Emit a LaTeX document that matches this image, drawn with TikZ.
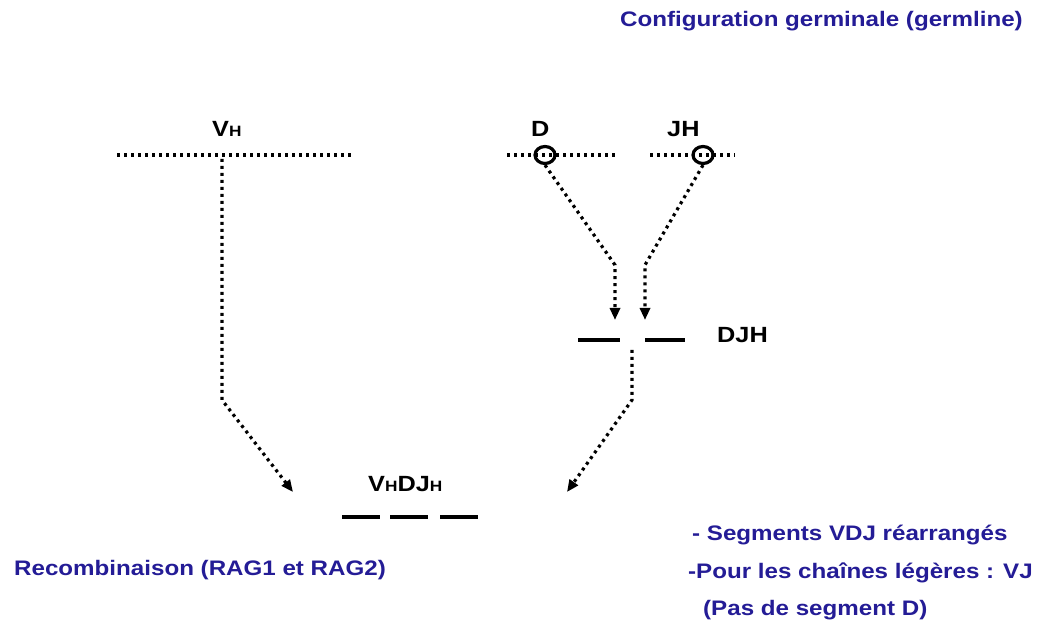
\documentclass[tikz,border=0pt]{standalone}
\usepackage{fontspec}
\usepackage{graphicx}
\setmainfont{Liberation Sans}
\usetikzlibrary{arrows.meta,shapes.geometric}
\definecolor{tblue}{RGB}{36,28,150}
\newcommand\hx[1]{\scalebox{1.15}[1]{#1}}
\newcommand\smH{{\fontsize{15}{16}\selectfont H}}
\begin{document}
\begin{tikzpicture}[x=1pt,y=-1pt,
  lab/.style={inner sep=0pt, anchor=base west, font=\fontsize{22}{24}\selectfont\bfseries},
  blab/.style={inner sep=0pt, anchor=base west, text=tblue, font=\fontsize{21}{24}\selectfont\bfseries},
  dots/.style={line width=3.2pt, dash pattern=on 3pt off 4pt},
  arr/.style={dots, -{Triangle[length=12pt,width=10pt]}},
  seg/.style={line width=3.6pt},
  ring/.style={draw, ellipse, line width=3.2pt, minimum width=20pt, minimum height=17pt, inner sep=0pt}]
\path[use as bounding box, fill=white] (0,0) rectangle (1037,628);

% texts
\node[blab] (title) at (620,27) {\hx{Configuration germinale (germline)}};
\node[blab] (recomb) at (14,575) {\hx{Recombinaison (RAG1 et RAG2)}};
\node[blab] (seg1) at (692,540) {\hx{-~Segments VDJ réarrangés}};
\node[blab] (seg2) at (688,578) {\hx{-Pour les chaînes légères : VJ}};
\node[blab] (seg3) at (703,615) {\hx{(Pas de segment D)}};

\node[lab] (VH) at (212,137) {\hx{V\smH}};
\node[lab] (D) at (531,137) {\hx{D}};
\node[lab] (JH) at (667,137) {\hx{JH}};
\node[lab] (DJH) at (717,343) {\hx{DJH}};
\node[lab] (VDJ) at (368,491) {\hx{V\smH DJ\smH}};

% germline dotted lines
\coordinate (vl) at (117,155); \coordinate (vr) at (352,155);
\coordinate (dl) at (507,155); \coordinate (dr) at (615,155);
\coordinate (jl) at (650,155); \coordinate (jr) at (735,155);
\draw[dots] (vl) -- (vr);
\draw[dots] (dl) -- (dr);
\draw[dots] (jl) -- (jr);
\node[ring] (dc) at (545,155) {};
\node[ring] (jc) at (703,155) {};

% DJ segments
\coordinate (a1) at (578,340); \coordinate (a2) at (620,340);
\coordinate (b1) at (645,340); \coordinate (b2) at (685,340);
\draw[seg] (a1) -- (a2);
\draw[seg] (b1) -- (b2);

% VDJ segments
\coordinate (c1) at (342,517); \coordinate (c2) at (380,517);
\coordinate (c3) at (390,517); \coordinate (c4) at (428,517);
\coordinate (c5) at (440,517); \coordinate (c6) at (478,517);
\draw[seg] (c1) -- (c2);
\draw[seg] (c3) -- (c4);
\draw[seg] (c5) -- (c6);

% arrows
\coordinate (vx) at (222,159);
\coordinate (vbend) at (222,400);
\coordinate (vtip) at (293,492);
\draw[arr] (vx) -- (vbend) -- (vtip);

\coordinate (dbend) at (615,265);
\coordinate (dtip) at (615,320);
\draw[arr] (dc.south) -- (dbend) -- (dtip);

\coordinate (jbend) at (645,265);
\coordinate (jtip) at (645,320);
\draw[arr] (jc.south) -- (jbend) -- (jtip);

\coordinate (djx) at (632,350);
\coordinate (djbend) at (632,400);
\coordinate (djtip) at (567,492);
\draw[arr] (djx) -- (djbend) -- (djtip);
\end{tikzpicture}
\end{document}
